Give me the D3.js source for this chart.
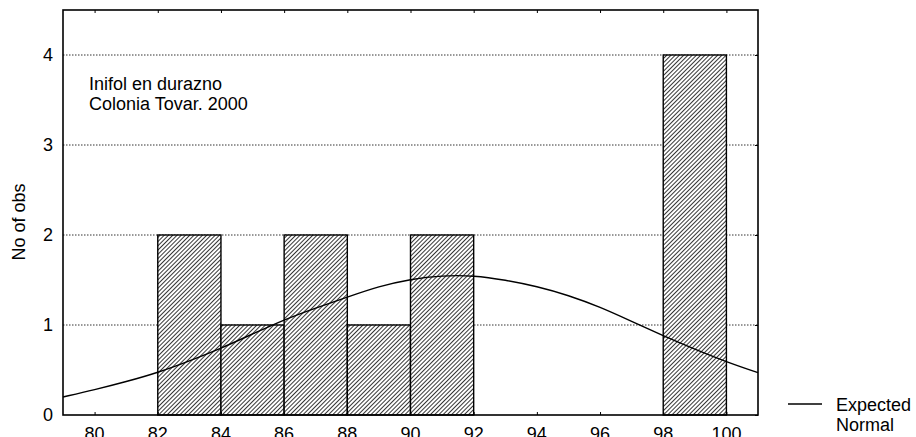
<!DOCTYPE html>
<html>
<head>
<meta charset="utf-8">
<script src="https://cdn.jsdelivr.net/npm/d3@7"></script>
<style>
  body { margin: 0; background: #fff; }
  svg { display: block; font-family: "Liberation Sans", Arial, sans-serif; }
</style>
</head>
<body>
<svg id="chart" width="916" height="437"></svg>
<script>
(function () {
  "use strict";

  // histogram bins (lower edge, upper edge, count)
  const binStart = [82, 84, 86, 88, 90, 98];
  const binEnd = [84, 86, 88, 90, 92, 100];
  const binCount = [2, 1, 2, 1, 2, 4];

  // expected normal curve
  const curveX = [79, 80, 81, 82, 83, 84, 85, 86, 87, 88, 89, 90, 91, 92, 93, 94, 95, 96, 97, 98, 99, 100, 101];
  const curveY = [0.20, 0.28, 0.37, 0.47, 0.60, 0.74, 0.90, 1.06, 1.19, 1.31, 1.43, 1.51, 1.55, 1.55, 1.50, 1.43, 1.33, 1.20, 1.04, 0.88, 0.73, 0.59, 0.47];

  const xTicks = [80, 82, 84, 86, 88, 90, 92, 94, 96, 98, 100];
  const yTicks = [0, 1, 2, 3, 4];
  const noteLines = ["Inifol en durazno", "Colonia Tovar. 2000"];
  const legendLines = ["Expected", "Normal"];

  const svg = d3.select("#chart");
  const plot = { left: 63, top: 10, right: 758, bottom: 415 };
  const fs = 18;

  const x = d3.scaleLinear().domain([79, 101]).range([plot.left, plot.right]);
  const y = d3.scaleLinear().domain([0, 4.5]).range([plot.bottom, plot.top]);

  // hatch pattern
  const defs = svg.append("defs");
  const pat = defs.append("pattern")
    .attr("id", "hatch")
    .attr("patternUnits", "userSpaceOnUse")
    .attr("width", 3)
    .attr("height", 3)
    .attr("patternTransform", "rotate(45)");
  pat.append("rect").attr("width", 3).attr("height", 3).attr("fill", "#fff");
  pat.append("line")
    .attr("x1", 0).attr("y1", 0).attr("x2", 0).attr("y2", 3)
    .attr("stroke", "#111").attr("stroke-width", 1.7);

  // gridlines
  svg.append("g")
    .selectAll("line")
    .data(yTicks.filter((d) => d > 0))
    .join("line")
    .attr("x1", plot.left).attr("x2", plot.right)
    .attr("y1", (d) => y(d)).attr("y2", (d) => y(d))
    .attr("stroke", "#333")
    .attr("stroke-width", 1)
    .attr("stroke-dasharray", "1.5,1.5");

  // bars
  const bins = binCount.map((c, i) => ({ x0: binStart[i], x1: binEnd[i], n: c }));
  svg.append("g")
    .selectAll("rect")
    .data(bins)
    .join("rect")
    .attr("x", (d) => x(d.x0))
    .attr("y", (d) => y(d.n))
    .attr("width", (d) => x(d.x1) - x(d.x0))
    .attr("height", (d) => y(0) - y(d.n))
    .attr("fill", "url(#hatch)")
    .attr("stroke", "#000")
    .attr("stroke-width", 1.4);

  // expected normal
  const pts = curveX.map((v, i) => [v, curveY[i]]);
  svg.append("path")
    .datum(pts)
    .attr("fill", "none")
    .attr("stroke", "#000")
    .attr("stroke-width", 1.4)
    .attr("d", d3.line().x((d) => x(d[0])).y((d) => y(d[1])).curve(d3.curveBasis));

  // axes: ticks inside the frame
  svg.append("g")
    .attr("transform", `translate(0,${plot.bottom})`)
    .call(d3.axisBottom(x).tickValues(xTicks).tickSize(-3).tickFormat(""))
    .call((g) => g.select(".domain").remove());
  svg.append("g")
    .attr("transform", `translate(0,${plot.top})`)
    .call(d3.axisTop(x).tickValues(xTicks).tickSize(-3).tickFormat(""))
    .call((g) => g.select(".domain").remove());
  svg.append("g")
    .attr("transform", `translate(${plot.right},0)`)
    .call(d3.axisRight(y).tickValues(yTicks).tickSize(-3).tickFormat(""))
    .call((g) => g.select(".domain").remove());

  svg.append("rect")
    .attr("x", plot.left).attr("y", plot.top)
    .attr("width", plot.right - plot.left).attr("height", plot.bottom - plot.top)
    .attr("fill", "none").attr("stroke", "#000").attr("stroke-width", 1.6);

  // tick labels (the bottom row is clipped by the page edge, as in the original)
  svg.append("g")
    .selectAll("text")
    .data(xTicks)
    .join("text")
    .attr("x", (d) => x(d))
    .attr("y", 440)
    .attr("text-anchor", "middle")
    .attr("font-size", fs)
    .attr("fill", "#000")
    .text((d) => d);

  svg.append("g")
    .selectAll("text")
    .data(yTicks)
    .join("text")
    .attr("x", 53)
    .attr("y", (d) => y(d) + 6)
    .attr("text-anchor", "end")
    .attr("font-size", fs)
    .attr("fill", "#000")
    .text((d) => d);

  svg.append("text")
    .attr("transform", `translate(25,222) rotate(-90)`)
    .attr("text-anchor", "middle")
    .attr("font-size", fs)
    .attr("fill", "#000")
    .text("No of obs");

  // note
  svg.append("g")
    .selectAll("text")
    .data(noteLines)
    .join("text")
    .attr("x", 89)
    .attr("y", (d, i) => 90 + i * 20)
    .attr("font-size", fs)
    .attr("fill", "#000")
    .text((d) => d);

  // legend
  svg.append("line")
    .attr("x1", 788).attr("x2", 822)
    .attr("y1", 404).attr("y2", 404)
    .attr("stroke", "#000").attr("stroke-width", 1.3);
  svg.append("g")
    .selectAll("text")
    .data(legendLines)
    .join("text")
    .attr("x", 836)
    .attr("y", (d, i) => 411 + i * 20)
    .attr("font-size", fs)
    .attr("fill", "#000")
    .text((d) => d);
})();
</script>
</body>
</html>
